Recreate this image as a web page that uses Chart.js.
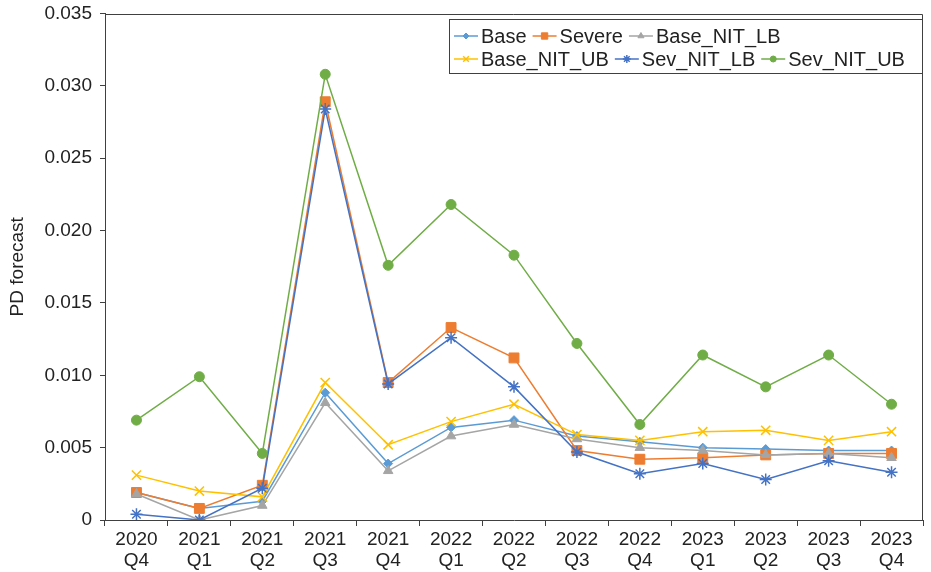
<!DOCTYPE html>
<html>
<head>
<meta charset="utf-8">
<script src="https://cdn.jsdelivr.net/npm/chart.js@4/dist/chart.umd.min.js"></script>
<style>
  html, body { margin: 0; padding: 0; background: #fff; }
  #wrap { width: 931px; height: 572px; position: relative; }
</style>
</head>
<body>
<div id="wrap"><canvas id="chart"></canvas></div>
<script>
// Quarters on the horizontal axis (year / quarter on two lines)
const quarters = [
  ['2020', 'Q4'], ['2021', 'Q1'], ['2021', 'Q2'], ['2021', 'Q3'], ['2021', 'Q4'],
  ['2022', 'Q1'], ['2022', 'Q2'], ['2022', 'Q3'], ['2022', 'Q4'],
  ['2023', 'Q1'], ['2023', 'Q2'], ['2023', 'Q3'], ['2023', 'Q4']
];

// PD forecasts per scenario
const base       = [0.0019, 0.0008, 0.0013, 0.0088, 0.0039, 0.0064, 0.0069, 0.0058, 0.0054, 0.0050, 0.0049, 0.0048, 0.0048];
const severe     = [0.0019, 0.0008, 0.0024, 0.0289, 0.0095, 0.0133, 0.0112, 0.0048, 0.0042, 0.0043, 0.0045, 0.0046, 0.0046];
const baseNitLb  = [0.0018, 0.0000, 0.0010, 0.0081, 0.0034, 0.0058, 0.0066, 0.0056, 0.0050, 0.0048, 0.0045, 0.0046, 0.0043];
const baseNitUb  = [0.0031, 0.0020, 0.0016, 0.0095, 0.0052, 0.0068, 0.0080, 0.0059, 0.0055, 0.0061, 0.0062, 0.0055, 0.0061];
const sevNitLb   = [0.0004, 0.0000, 0.0022, 0.0284, 0.0094, 0.0126, 0.0092, 0.0047, 0.0032, 0.0039, 0.0028, 0.0041, 0.0033];
const sevNitUb   = [0.0069, 0.0099, 0.0046, 0.0308, 0.0176, 0.0218, 0.0183, 0.0122, 0.0066, 0.0114, 0.0092, 0.0114, 0.0080];

// Y-axis range and step
const yMin = 0, yMax = 0.035, yStep = 0.005;

const FONT = '"Liberation Sans", Arial, Helvetica, sans-serif';
const AXIS_COLOR = '#404040';

function series(label, data, color, style, radius, legendRadius, order) {
  return {
    label, data,
    borderColor: color,
    backgroundColor: color,
    borderWidth: 1.5,
    pointStyle: style,
    pointRadius: radius,
    pointHoverRadius: radius,
    pointBorderWidth: style === 'crossRot' || style === 'star' ? 1.5 : 1,
    pointBorderColor: color,
    pointBackgroundColor: color,
    legendRadius,
    tension: 0,
    fill: false,
    order
  };
}

const datasets = [
  series('Base',        base,      '#5B9BD5', 'rectRot',  4.5, 3,   6),
  series('Severe',      severe,    '#ED7D31', 'rect',     7,   4.5, 5),
  series('Base_NIT_LB', baseNitLb, '#A5A5A5', 'triangle', 5.5, 3.5, 4),
  series('Base_NIT_UB', baseNitUb, '#FFC000', 'crossRot', 6.5, 4,   3),
  series('Sev_NIT_LB',  sevNitLb,  '#4472C4', 'star',     6,   4,   2),
  series('Sev_NIT_UB',  sevNitUb,  '#70AD47', 'circle',   5,   3,   1)
];

// Frame around the plot area (top and right edges)
const framePlugin = {
  id: 'frame',
  afterDraw(chart) {
    const { ctx, chartArea: a } = chart;
    ctx.save();
    ctx.strokeStyle = AXIS_COLOR;
    ctx.lineWidth = 1;
    ctx.beginPath();
    ctx.moveTo(a.left, Math.round(a.top) + 0.5);
    ctx.lineTo(Math.round(a.right) - 0.5, Math.round(a.top) + 0.5);
    ctx.lineTo(Math.round(a.right) - 0.5, a.bottom);
    ctx.stroke();
    ctx.restore();
  }
};

function drawMarker(ctx, ds, radius, x, y) {
  ctx.fillStyle = ds.pointBackgroundColor;
  ctx.strokeStyle = ds.pointBorderColor;
  ctx.lineWidth = ds.pointBorderWidth;
  Chart.helpers.drawPoint(ctx, {
    pointStyle: ds.pointStyle,
    radius,
    rotation: 0,
    borderWidth: ds.pointBorderWidth
  }, x, y);
}

// Boxed legend with line + marker samples, two rows, inside the plot area
const boxLegendPlugin = {
  id: 'boxLegend',
  afterDatasetsDraw(chart) {
    const { ctx } = chart;
    const box = { left: 449.5, top: 19.5, right: 922.5, bottom: 73.5 };
    const rows = [[0, 1, 2], [3, 4, 5]];
    const rowY = [36, 59];
    const startX = 454, lineLen = 24, textGap = 3, itemGap = 6;
    ctx.save();
    ctx.fillStyle = '#fff';
    ctx.fillRect(box.left, box.top, box.right - box.left, box.bottom - box.top);
    ctx.strokeStyle = AXIS_COLOR;
    ctx.lineWidth = 1;
    ctx.strokeRect(box.left, box.top, box.right - box.left, box.bottom - box.top);
    ctx.font = '20px ' + FONT;
    ctx.textBaseline = 'middle';
    rows.forEach((row, r) => {
      let x = startX;
      const y = rowY[r];
      row.forEach(i => {
        const ds = chart.data.datasets[i];
        ctx.strokeStyle = ds.borderColor;
        ctx.lineWidth = 1.5;
        ctx.beginPath();
        ctx.moveTo(x, y);
        ctx.lineTo(x + lineLen, y);
        ctx.stroke();
        drawMarker(ctx, ds, ds.legendRadius, x + lineLen / 2, y);
        x += lineLen + textGap;
        ctx.fillStyle = '#222';
        ctx.fillText(ds.label, x, y + 1);
        x += ctx.measureText(ds.label).width + itemGap;
      });
    });
    ctx.restore();
  }
};

new Chart(document.getElementById('chart'), {
  type: 'line',
  data: { labels: quarters, datasets },
  options: {
    responsive: true,
    maintainAspectRatio: false,
    animation: false,
    layout: { padding: { top: 13.5, right: 0, left: 0, bottom: 0 } },
    plugins: {
      legend: { display: false },
      tooltip: { enabled: false }
    },
    scales: {
      x: {
        type: 'category',
        offset: true,
        border: { color: AXIS_COLOR, width: 1 },
        grid: {
          offset: true,
          drawOnChartArea: false,
          drawTicks: true,
          tickLength: 6,
          tickColor: AXIS_COLOR
        },
        ticks: {
          color: '#222',
          font: { family: FONT, size: 19, lineHeight: 1.1 },
          padding: 3,
          maxRotation: 0,
          autoSkip: false
        },
        afterFit(scale) {
          scale.height = 52;
          scale.paddingLeft = 0;
          scale.paddingRight = 0;
        }
      },
      y: {
        min: yMin,
        max: yMax,
        border: { color: AXIS_COLOR, width: 1 },
        grid: {
          drawOnChartArea: false,
          drawTicks: true,
          tickLength: 5,
          tickColor: AXIS_COLOR
        },
        ticks: {
          stepSize: yStep,
          color: '#222',
          font: { family: FONT, size: 19 },
          padding: 8,
          callback: v => (Math.abs(v) < 1e-9 ? '0' : Number(v).toFixed(3))
        },
        title: {
          display: true,
          text: 'PD forecast',
          color: '#222',
          font: { family: FONT, size: 19 },
          padding: { top: 6, bottom: 0 }
        },
        afterFit(scale) {
          scale.width = 105;
          scale.paddingTop = 0;
          scale.paddingBottom = 0;
        }
      }
    }
  },
  plugins: [framePlugin, boxLegendPlugin]
});
</script>
</body>
</html>
